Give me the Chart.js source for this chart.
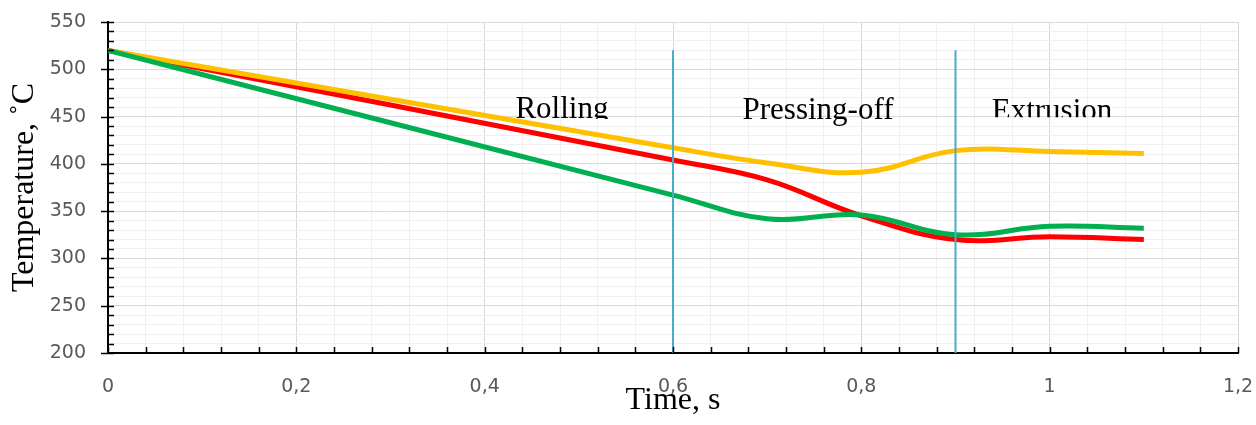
<!DOCTYPE html>
<html>
<head>
<meta charset="utf-8">
<script src="https://cdn.jsdelivr.net/npm/chart.js@4"></script>
<style>
  html, body { margin: 0; padding: 0; background: #fff; }
  #wrap { width: 1256px; height: 425px; }
</style>
</head>
<body>
<div id="wrap"><canvas id="chart" width="1256" height="425"></canvas></div>
<script>
// time points (s) and temperatures (°C)
const times  = [0, 0.6, 0.7, 0.8, 0.9, 1.0, 1.1];
const yellow = [520, 417, 401, 391, 414, 413, 411];
const red    = [520, 404, 383, 345, 320, 323, 320];
const green  = [520, 367, 342, 346, 325, 334, 332];

// phase boundaries and names
const bounds     = [0.6, 0.9];
const boundRange = [200, 520];
const phaseNames = ["Rolling", "Pressing-off", "Extrusion"];

const pts = arr => arr.map((v, i) => ({ x: times[i], y: v }));
const tickFont = { family: "DejaVu Sans", size: 19 };
const serif = "'Liberation Serif', 'Times New Roman', serif";

const curve = (data, color) => ({
  data: pts(data), borderColor: color, borderWidth: 5,
  pointRadius: 0, tension: 0.4, fill: false
});
const boundLine = x => ({
  data: boundRange.map(y => ({ x, y })), borderColor: "#4bacc6",
  borderWidth: 2, pointRadius: 0, tension: 0, fill: false
});

// phase labels, clipped at the bottom like the text boxes in the original
const phaseText = {
  id: "phaseText",
  afterDatasetsDraw(chart, args, opts) {
    const { ctx, scales: { x, y } } = chart;
    ctx.save();
    ctx.font = "31px " + serif;
    ctx.fillStyle = "#000";
    ctx.textAlign = "center";
    ctx.textBaseline = "alphabetic";
    opts.items.forEach((it, i) => {
      const px = x.getPixelForValue(it.x);
      const base = y.getPixelForValue(it.y);
      ctx.save();
      ctx.beginPath();
      ctx.rect(px - 120, base - 40, 240, 40 + it.clip);
      ctx.clip();
      ctx.fillText(phaseNames[i], px, base);
      ctx.restore();
    });
    ctx.restore();
  }
};

// small tick marks on the inside of the axes
const innerTicks = {
  id: "innerTicks",
  afterDraw(chart) {
    const { ctx, chartArea: a, scales: { x, y } } = chart;
    ctx.save();
    ctx.strokeStyle = "#000";
    ctx.lineWidth = 1.5;
    ctx.beginPath();
    x.ticks.forEach(t => {
      const px = Math.round(x.getPixelForValue(t.value)) + 0.5;
      ctx.moveTo(px, a.bottom);
      ctx.lineTo(px, a.bottom - 6);
    });
    y.ticks.forEach(t => {
      const py = Math.round(y.getPixelForValue(t.value)) + 0.5;
      const major = t.value % 50 === 0;
      ctx.moveTo(major ? a.left - 7 : a.left, py);
      ctx.lineTo(a.left + 6, py);
    });
    ctx.stroke();
    ctx.restore();
  }
};

new Chart(document.getElementById("chart"), {
  type: "line",
  data: {
    datasets: [
      boundLine(bounds[0]),
      boundLine(bounds[1]),
      curve(green, "#00b050"),
      curve(yellow, "#ffc000"),
      curve(red, "#ff0000")
    ]
  },
  options: {
    responsive: false,
    animation: false,
    devicePixelRatio: 1,
    layout: { padding: { top: 22, right: 18, left: 0, bottom: 0 } },
    plugins: {
      legend: { display: false },
      tooltip: { enabled: false },
      phaseText: {
        items: [
          { x: 0.482, y: 448.5, clip: 1 },
          { x: 0.754, y: 447.5, clip: 12 },
          { x: 1.0025, y: 446, clip: -3 }
        ]
      }
    },
    scales: {
      x: {
        type: "linear", min: 0, max: 1.2,
        afterFit: s => { s.height = 72; s.paddingLeft = 0; s.paddingRight = 0; },
        ticks: {
          stepSize: 0.04, autoSkip: false, maxRotation: 0, padding: 23,
          color: "#595959", font: tickFont,
          callback: v => Math.round(v * 100) % 20 === 0 ? String(Math.round(v * 10) / 10).replace(".", ",") : ""
        },
        grid: {
          drawTicks: false,
          color: c => c.tick && Math.round(c.tick.value * 100) % 20 === 0 ? "#d9d9d9" : "#f0f0f0"
        },
        border: { color: "#000", width: 2 },
        title: {
          display: true, text: "Time, s", color: "#000",
          font: { family: serif, size: 32 }, padding: { top: 0, bottom: 5 }
        }
      },
      y: {
        min: 200, max: 550,
        afterFit: s => { s.width = 108; s.paddingTop = 0; s.paddingBottom = 0; },
        ticks: {
          stepSize: 10, autoSkip: false, padding: 22,
          color: "#595959", font: tickFont,
          callback: v => v % 50 === 0 ? String(v) : ""
        },
        grid: {
          drawTicks: false,
          color: c => c.tick && c.tick.value % 50 === 0 ? "#d9d9d9" : "#f0f0f0"
        },
        border: { color: "#000", width: 2 },
        title: {
          display: true, text: "Temperature, \u02DAC", color: "#000",
          font: { family: serif, size: 32 }, padding: { top: 5, bottom: 0 }
        }
      }
    }
  },
  plugins: [phaseText, innerTicks]
});
</script>
</body>
</html>
